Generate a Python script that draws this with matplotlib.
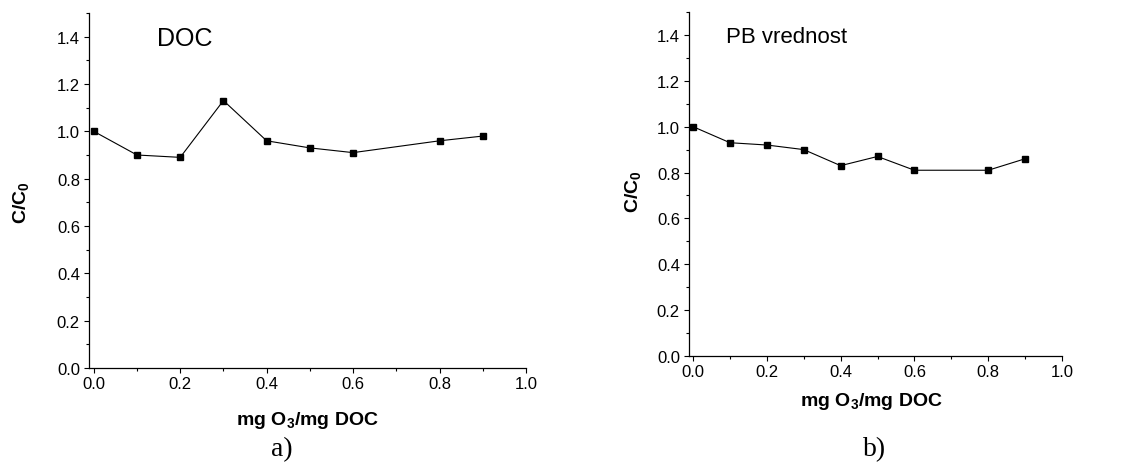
import matplotlib
matplotlib.use("Agg")
import matplotlib.pyplot as plt
from matplotlib.ticker import MultipleLocator

# =========================================
# DATA
# =========================================
doze = [0.0, 0.1, 0.2, 0.3, 0.4, 0.5, 0.6, 0.8, 0.9]
doc_vals = [1.00, 0.90, 0.89, 1.13, 0.96, 0.93, 0.91, 0.96, 0.98]
pb_vals = [1.00, 0.93, 0.92, 0.90, 0.83, 0.87, 0.81, 0.81, 0.86]

xlabel_txt = r"mg O$_3$/mg DOC"
ylabel_txt = r"C/C$_0$"

plt.rcParams["font.family"] = ["Liberation Sans", "DejaVu Sans"]
plt.rcParams["mathtext.default"] = "regular"

fig = plt.figure(figsize=(11.43, 4.77), dpi=100)

W, H = 1143, 477

boxes = [
    (89, 526, 369, 14),
    (689, 1062, 357, 13),
]
panels = [
    (doc_vals, "DOC", "a)"),
    (pb_vals, "PB vrednost", "b)"),
]

for (l, r, b, t), (vals, title, tag) in zip(boxes, panels):
    ax = fig.add_axes([l / W, 1 - b / H, (r - l) / W, (b - t) / H])

    ax.plot(doze, vals, color="black", linewidth=0.8,
            marker="s", markersize=5, markerfacecolor="black",
            markeredgecolor="black")

    ax.set_xlim(-0.011, 1.0)
    ax.set_ylim(0.0, 1.5)

    ax.spines["top"].set_visible(False)
    ax.spines["right"].set_visible(False)
    ax.spines["left"].set_linewidth(0.9)
    ax.spines["bottom"].set_linewidth(0.9)

    ax.xaxis.set_minor_locator(MultipleLocator(0.1))
    ax.yaxis.set_minor_locator(MultipleLocator(0.1))
    ax.set_xticks([0.0, 0.2, 0.4, 0.6, 0.8, 1.0])
    ax.set_yticks([0.0, 0.2, 0.4, 0.6, 0.8, 1.0, 1.2, 1.4])
    ax.set_xticklabels(["0.0", "0.2", "0.4", "0.6", "0.8", "1.0"])
    ax.set_yticklabels(["0.0", "0.2", "0.4", "0.6", "0.8", "1.0", "1.2", "1.4"])

    ax.tick_params(which="major", direction="out", length=3.5, width=0.8,
                   labelsize=12, colors="black")
    ax.tick_params(which="minor", direction="out", length=2, width=0.8)
    ax.tick_params(axis="x", pad=2)
    ax.tick_params(axis="y", pad=3)

    ax.text(0.155 if tag == "a)" else 0.1, 0.93, title,
            transform=ax.transAxes, fontsize=18 if tag == "a)" else 16,
            ha="left", va="center")

    ax.set_xlabel(xlabel_txt, fontsize=14, fontweight="bold")
    ax.set_ylabel(ylabel_txt, fontsize=14, fontweight="bold")

    if tag == "a)":
        ax.xaxis.set_label_coords(0.499, -0.144)
        ax.yaxis.set_label_coords(-0.155, 0.47)
        fig.text(282 / W, 1 - 450 / H, tag, fontsize=20,
                 family="Liberation Serif", ha="center", va="center")
    else:
        ax.xaxis.set_label_coords(0.49, -0.128)
        ax.yaxis.set_label_coords(-0.15, 0.48)
        fig.text(875 / W, 1 - 450 / H, tag, fontsize=20,
                 family="Liberation Serif", ha="center", va="center")

    ax.xaxis.label.set_verticalalignment("center")
    ax.yaxis.label.set_verticalalignment("center")

plt.savefig("out.png", dpi=100)
